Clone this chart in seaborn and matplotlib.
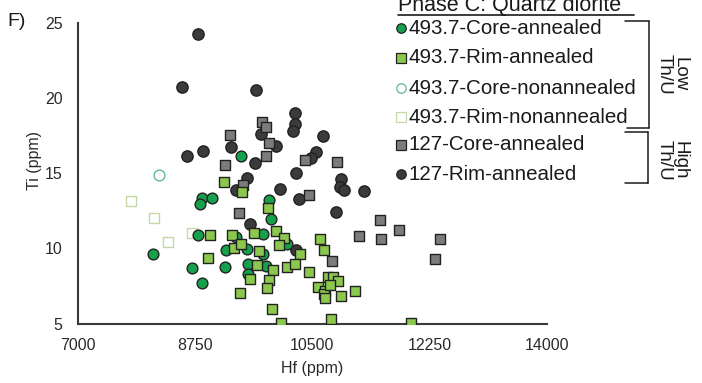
import matplotlib
matplotlib.use("Agg")
import matplotlib.pyplot as plt
import seaborn as sns
import pandas as pd
from matplotlib.lines import Line2D

# ---------------- data (Hf ppm, Ti ppm) ----------------
core_ann_hf = [9436, 8857, 8999, 8824, 9846, 9880, 8790, 9768, 8119, 9208,
               8708, 9190, 8854, 9521, 9768, 9545, 9804, 9545, 10117, 9361]
core_ann_ti = [16.15, 13.39, 13.38, 12.95, 13.21, 11.94, 10.91, 10.94, 9.61, 9.87,
               8.71, 8.76, 7.72, 9.97, 9.65, 8.99, 8.83, 8.32, 10.32, 10.74]

rim_ann_hf = [9182, 9446, 9839, 8969, 9306, 9634, 9958, 10082, 10006, 9324,
              9436, 9704, 10316, 10614, 10677, 8939, 9677, 9910, 10117, 10241,
              10453, 9570, 9853, 9819, 9421, 9894, 10035, 10774, 10726, 10813,
              10878, 10589, 10689, 10681, 10920, 11136, 10689, 11967, 10763]
rim_ann_ti = [14.44, 13.75, 12.73, 10.93, 10.90, 11.04, 11.16, 10.70, 10.26, 10.03,
              10.28, 9.84, 9.66, 10.60, 9.89, 9.37, 8.93, 8.59, 8.76, 8.99,
              8.43, 7.99, 7.87, 7.34, 7.02, 5.95, 5.05, 5.31, 8.07, 8.11,
              7.85, 7.42, 7.16, 6.94, 6.83, 7.15, 6.67, 5.05, 7.54]

core_non_hf = [8213]
core_non_ti = [14.88]

rim_non_hf = [7791, 8138, 8342, 8700]
rim_non_ti = [13.17, 12.04, 10.43, 11.03]

core127_hf = [9272, 9749, 9809, 9849, 9816, 9197, 10390, 10868, 9470, 10455,
              9410, 11509, 11793, 11191, 11520, 12404, 12330, 10789]
core127_ti = [17.59, 18.42, 18.09, 17.02, 16.15, 15.58, 15.92, 15.75, 14.22, 13.55,
              12.37, 11.88, 11.21, 10.83, 10.61, 10.61, 9.27, 9.14]

rim127_hf = [8799, 8563, 9660, 10241, 10234, 10204, 10659, 9734, 9958, 9294,
             8630, 8862, 9645, 10547, 10487, 10256, 9518, 10920, 10913, 10977,
             11273, 9357, 10020, 10296, 10857, 9563, 10252]
rim127_ti = [24.28, 20.78, 20.56, 19.02, 18.29, 17.82, 17.52, 17.65, 16.85, 16.75,
             16.15, 16.52, 15.68, 16.42, 16.02, 15.04, 14.68, 14.65, 14.10, 13.88,
             13.85, 13.91, 13.98, 13.33, 12.43, 11.66, 9.87]

labels = ["493.7-Core-annealed", "493.7-Rim-annealed", "493.7-Core-nonannealed",
          "493.7-Rim-nonannealed", "127-Core-annealed", "127-Rim-annealed"]
x_ticks = [7000, 8750, 10500, 12250, 14000]
y_ticks = [5, 10, 15, 20, 25]

# ---------------- styling ----------------
sns.set_theme(style="white")
plt.rcParams['font.family'] = ['Liberation Sans', 'DejaVu Sans']

W, H = 702, 383
fig = plt.figure(figsize=(W / 100, H / 100), dpi=100)
ax = fig.add_axes([77.7 / W, 1 - 323.5 / H, (547 - 77.7) / W, 300 / H])

EDGE = "#222222"
styles = [
    # label, hf, ti, marker, face, edge, size, zorder
    (labels[5], rim127_hf, rim127_ti, "o", "#3b3b3b", EDGE, 66, 3),
    (labels[4], core127_hf, core127_ti, "s", "#7c7c7c", EDGE, 62, 4),
    (labels[3], rim_non_hf, rim_non_ti, "s", "white", "#c4d8a6", 58, 2),
    (labels[2], core_non_hf, core_non_ti, "o", "white", "#5db89c", 60, 2),
    (labels[0], core_ann_hf, core_ann_ti, "o", "#15a04b", EDGE, 60, 5),
    (labels[1], rim_ann_hf, rim_ann_ti, "s", "#8cc84e", EDGE, 58, 6),
]

for lab, hf, ti, mk, fc, ec, s, z in styles:
    df = pd.DataFrame({"Hf": hf, "Ti": ti})
    sns.scatterplot(data=df, x="Hf", y="Ti", ax=ax, marker=mk, s=s,
                    color=fc, edgecolor=ec, linewidth=1.0, zorder=z, legend=False)

ax.set_xlim(7000, 14000)
ax.set_ylim(5, 25)
ax.set_xticks(x_ticks)
ax.set_yticks(y_ticks)
ax.set_xticklabels([str(v) for v in x_ticks])
ax.set_yticklabels([str(v) for v in y_ticks])
for side in ["top", "right"]:
    ax.spines[side].set_visible(False)
for side in ["left", "bottom"]:
    ax.spines[side].set_color("#3a3a3a")
    ax.spines[side].set_linewidth(1.5)
ax.tick_params(axis="x", direction="in", length=5, width=1.2, color="#3a3a3a",
               labelsize=11.5, labelcolor="#2a2a2a", pad=10.5)
ax.tick_params(axis="y", direction="out", length=5, width=1.2, color="#3a3a3a",
               labelsize=11.5, labelcolor="#2a2a2a", pad=6)
ax.set_xlabel("Hf (ppm)", fontsize=11.5, color="#2a2a2a", labelpad=6)
ax.set_ylabel("Ti (ppm)", fontsize=11.5, color="#2a2a2a")
ax.yaxis.set_label_coords((42 - 77.7) / (547 - 77.7), (323.5 - 161) / 300)
ax.grid(False)

def fx(px):
    return px / W

def fy(py):
    return 1 - py / H

# panel letter
fig.text(fx(7), fy(22), "F)", fontsize=14, color="#1a1a1a", va="center", ha="left")

# legend title (underlined, at the top edge as in the reference)
fig.text(fx(398), fy(11), "Phase C: Quartz diorite", fontsize=15.5, color="#1a1a1a",
         va="baseline", ha="left")
fig.add_artist(Line2D([fx(398), fx(634)], [fy(14.8), fy(14.8)],
                      transform=fig.transFigure, color="#1a1a1a", lw=1.2))

# manual legend rows
legend_order = [
    (labels[0], "o", "#15a04b", EDGE),
    (labels[1], "s", "#8cc84e", EDGE),
    (labels[2], "o", "white", "#5db89c"),
    (labels[3], "s", "white", "#c4d8a6"),
    (labels[4], "s", "#7c7c7c", EDGE),
    (labels[5], "o", "#3b3b3b", EDGE),
]
rows_y = [28.3, 57.7, 88.3, 117.3, 145, 174]
for (lab, mk, fc, ec), ry in zip(legend_order, rows_y):
    fig.add_artist(Line2D([fx(401)], [fy(ry)], transform=fig.transFigure,
                          marker=mk, markersize=6.8, markerfacecolor=fc,
                          markeredgecolor=ec, markeredgewidth=0.9, linestyle="none"))
    fig.text(fx(408.5), fy(ry), lab, fontsize=14.8, color="#1a1a1a",
             va="center", ha="left")

# brackets
def seg(x0, y0, x1, y1):
    fig.add_artist(Line2D([fx(x0), fx(x1)], [fy(y0), fy(y1)],
                          transform=fig.transFigure, color="#1a1a1a", lw=1.1))

seg(625, 20.5, 649, 20.5)
seg(649, 20.5, 649, 127.7)
seg(627, 127.7, 649, 127.7)
seg(625, 132.3, 648, 132.3)
seg(648, 132.3, 648, 183.3)
seg(625, 183.3, 648, 183.3)

fig.text(fx(672), fy(74), "Low\nTh/U", rotation=270, fontsize=13.5, color="#1a1a1a",
         ha="center", va="center", linespacing=0.95, multialignment="center")
fig.text(fx(672), fy(160), "High\nTh/U", rotation=270, fontsize=13.5, color="#1a1a1a",
         ha="center", va="center", linespacing=0.95, multialignment="center")

fig.savefig("out.png", dpi=100)
